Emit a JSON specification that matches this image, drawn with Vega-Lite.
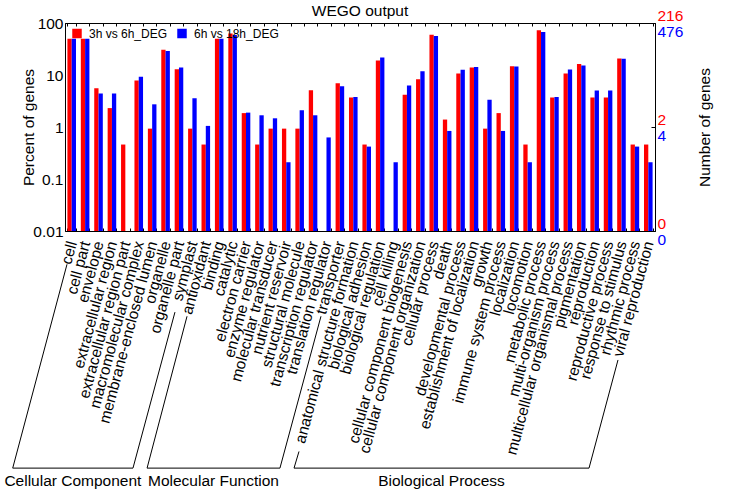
{
  "$schema": "https://vega.github.io/schema/vega-lite/v6.json",
  "width": 590,
  "height": 208,
  "autosize": "none",
  "padding": {"left": 65, "top": 23, "right": 88, "bottom": 261},
  "title": {
    "text": "WEGO output",
    "fontSize": 15.5,
    "fontWeight": "normal",
    "color": "black",
    "anchor": "middle",
    "frame": "group",
    "baseline": "alphabetic",
    "offset": 0,
    "dy": 23
  },
  "config": {
    "font": "Liberation Sans",
    "background": "white",
    "view": {"stroke": "black"},
    "axis": {
      "grid": false,
      "domainColor": "black",
      "tickColor": "black",
      "labelColor": "black",
      "titleColor": "black",
      "labelFontSize": 15.5,
      "titleFontSize": 15.5,
      "titleFontWeight": "normal"
    }
  },
  "datasets": {
    "bars": [
      {"term": "cell", "ontology": "Cellular Component", "series": "3h vs 6h_DEG", "percent": 50.0},
      {"term": "cell", "ontology": "Cellular Component", "series": "6h vs 18h_DEG", "percent": 50.0},
      {"term": "cell part", "ontology": "Cellular Component", "series": "3h vs 6h_DEG", "percent": 50.0},
      {"term": "cell part", "ontology": "Cellular Component", "series": "6h vs 18h_DEG", "percent": 50.0},
      {"term": "envelope", "ontology": "Cellular Component", "series": "3h vs 6h_DEG", "percent": 5.56},
      {"term": "envelope", "ontology": "Cellular Component", "series": "6h vs 18h_DEG", "percent": 4.41},
      {"term": "extracellular region", "ontology": "Cellular Component", "series": "3h vs 6h_DEG", "percent": 2.31},
      {"term": "extracellular region", "ontology": "Cellular Component", "series": "6h vs 18h_DEG", "percent": 4.41},
      {"term": "extracellular region part", "ontology": "Cellular Component", "series": "3h vs 6h_DEG", "percent": 0.46},
      {"term": "macromolecular complex", "ontology": "Cellular Component", "series": "3h vs 6h_DEG", "percent": 7.87},
      {"term": "macromolecular complex", "ontology": "Cellular Component", "series": "6h vs 18h_DEG", "percent": 9.24},
      {"term": "membrane-enclosed lumen", "ontology": "Cellular Component", "series": "3h vs 6h_DEG", "percent": 0.93},
      {"term": "membrane-enclosed lumen", "ontology": "Cellular Component", "series": "6h vs 18h_DEG", "percent": 2.73},
      {"term": "organelle", "ontology": "Cellular Component", "series": "3h vs 6h_DEG", "percent": 30.6},
      {"term": "organelle", "ontology": "Cellular Component", "series": "6h vs 18h_DEG", "percent": 28.8},
      {"term": "organelle part", "ontology": "Cellular Component", "series": "3h vs 6h_DEG", "percent": 12.96},
      {"term": "organelle part", "ontology": "Cellular Component", "series": "6h vs 18h_DEG", "percent": 13.87},
      {"term": "symplast", "ontology": "Cellular Component", "series": "3h vs 6h_DEG", "percent": 0.93},
      {"term": "symplast", "ontology": "Cellular Component", "series": "6h vs 18h_DEG", "percent": 3.57},
      {"term": "antioxidant", "ontology": "Molecular Function", "series": "3h vs 6h_DEG", "percent": 0.46},
      {"term": "antioxidant", "ontology": "Molecular Function", "series": "6h vs 18h_DEG", "percent": 1.05},
      {"term": "binding", "ontology": "Molecular Function", "series": "3h vs 6h_DEG", "percent": 50.0},
      {"term": "binding", "ontology": "Molecular Function", "series": "6h vs 18h_DEG", "percent": 50.0},
      {"term": "catalytic", "ontology": "Molecular Function", "series": "3h vs 6h_DEG", "percent": 62.5},
      {"term": "catalytic", "ontology": "Molecular Function", "series": "6h vs 18h_DEG", "percent": 58.8},
      {"term": "electron carrier", "ontology": "Molecular Function", "series": "3h vs 6h_DEG", "percent": 1.85},
      {"term": "electron carrier", "ontology": "Molecular Function", "series": "6h vs 18h_DEG", "percent": 1.89},
      {"term": "enzyme regulator", "ontology": "Molecular Function", "series": "3h vs 6h_DEG", "percent": 0.46},
      {"term": "enzyme regulator", "ontology": "Molecular Function", "series": "6h vs 18h_DEG", "percent": 1.68},
      {"term": "molecular transducer", "ontology": "Molecular Function", "series": "3h vs 6h_DEG", "percent": 0.93},
      {"term": "molecular transducer", "ontology": "Molecular Function", "series": "6h vs 18h_DEG", "percent": 1.47},
      {"term": "nutrient reservoir", "ontology": "Molecular Function", "series": "3h vs 6h_DEG", "percent": 0.93},
      {"term": "nutrient reservoir", "ontology": "Molecular Function", "series": "6h vs 18h_DEG", "percent": 0.21},
      {"term": "structural molecule", "ontology": "Molecular Function", "series": "3h vs 6h_DEG", "percent": 0.93},
      {"term": "structural molecule", "ontology": "Molecular Function", "series": "6h vs 18h_DEG", "percent": 2.10},
      {"term": "transcription regulator", "ontology": "Molecular Function", "series": "3h vs 6h_DEG", "percent": 5.09},
      {"term": "transcription regulator", "ontology": "Molecular Function", "series": "6h vs 18h_DEG", "percent": 1.68},
      {"term": "translation regulator", "ontology": "Molecular Function", "series": "6h vs 18h_DEG", "percent": 0.63},
      {"term": "transporter", "ontology": "Molecular Function", "series": "3h vs 6h_DEG", "percent": 6.94},
      {"term": "transporter", "ontology": "Molecular Function", "series": "6h vs 18h_DEG", "percent": 6.09},
      {"term": "anatomical structure formation", "ontology": "Biological Process", "series": "3h vs 6h_DEG", "percent": 3.70},
      {"term": "anatomical structure formation", "ontology": "Biological Process", "series": "6h vs 18h_DEG", "percent": 3.78},
      {"term": "biological adhesion", "ontology": "Biological Process", "series": "3h vs 6h_DEG", "percent": 0.46},
      {"term": "biological adhesion", "ontology": "Biological Process", "series": "6h vs 18h_DEG", "percent": 0.42},
      {"term": "biological regulation", "ontology": "Biological Process", "series": "3h vs 6h_DEG", "percent": 18.98},
      {"term": "biological regulation", "ontology": "Biological Process", "series": "6h vs 18h_DEG", "percent": 21.6},
      {"term": "cell killing", "ontology": "Biological Process", "series": "6h vs 18h_DEG", "percent": 0.21},
      {"term": "cellular component biogenesis", "ontology": "Biological Process", "series": "3h vs 6h_DEG", "percent": 4.17},
      {"term": "cellular component biogenesis", "ontology": "Biological Process", "series": "6h vs 18h_DEG", "percent": 6.30},
      {"term": "cellular component organization", "ontology": "Biological Process", "series": "3h vs 6h_DEG", "percent": 8.33},
      {"term": "cellular component organization", "ontology": "Biological Process", "series": "6h vs 18h_DEG", "percent": 11.76},
      {"term": "cellular process", "ontology": "Biological Process", "series": "3h vs 6h_DEG", "percent": 59.7},
      {"term": "cellular process", "ontology": "Biological Process", "series": "6h vs 18h_DEG", "percent": 56.1},
      {"term": "death", "ontology": "Biological Process", "series": "3h vs 6h_DEG", "percent": 1.39},
      {"term": "death", "ontology": "Biological Process", "series": "6h vs 18h_DEG", "percent": 0.84},
      {"term": "developmental process", "ontology": "Biological Process", "series": "3h vs 6h_DEG", "percent": 10.65},
      {"term": "developmental process", "ontology": "Biological Process", "series": "6h vs 18h_DEG", "percent": 12.6},
      {"term": "establishment of localization", "ontology": "Biological Process", "series": "3h vs 6h_DEG", "percent": 13.9},
      {"term": "establishment of localization", "ontology": "Biological Process", "series": "6h vs 18h_DEG", "percent": 14.3},
      {"term": "growth", "ontology": "Biological Process", "series": "3h vs 6h_DEG", "percent": 0.93},
      {"term": "growth", "ontology": "Biological Process", "series": "6h vs 18h_DEG", "percent": 3.36},
      {"term": "immune system process", "ontology": "Biological Process", "series": "3h vs 6h_DEG", "percent": 1.85},
      {"term": "immune system process", "ontology": "Biological Process", "series": "6h vs 18h_DEG", "percent": 0.84},
      {"term": "localization", "ontology": "Biological Process", "series": "3h vs 6h_DEG", "percent": 14.8},
      {"term": "localization", "ontology": "Biological Process", "series": "6h vs 18h_DEG", "percent": 14.5},
      {"term": "locomotion", "ontology": "Biological Process", "series": "3h vs 6h_DEG", "percent": 0.46},
      {"term": "locomotion", "ontology": "Biological Process", "series": "6h vs 18h_DEG", "percent": 0.21},
      {"term": "metabolic process", "ontology": "Biological Process", "series": "3h vs 6h_DEG", "percent": 72.2},
      {"term": "metabolic process", "ontology": "Biological Process", "series": "6h vs 18h_DEG", "percent": 67.0},
      {"term": "multi-organism process", "ontology": "Biological Process", "series": "3h vs 6h_DEG", "percent": 3.70},
      {"term": "multi-organism process", "ontology": "Biological Process", "series": "6h vs 18h_DEG", "percent": 3.78},
      {"term": "multicellular organismal process", "ontology": "Biological Process", "series": "3h vs 6h_DEG", "percent": 10.65},
      {"term": "multicellular organismal process", "ontology": "Biological Process", "series": "6h vs 18h_DEG", "percent": 12.8},
      {"term": "pigmentation", "ontology": "Biological Process", "series": "3h vs 6h_DEG", "percent": 16.2},
      {"term": "pigmentation", "ontology": "Biological Process", "series": "6h vs 18h_DEG", "percent": 15.3},
      {"term": "reproduction", "ontology": "Biological Process", "series": "3h vs 6h_DEG", "percent": 3.70},
      {"term": "reproduction", "ontology": "Biological Process", "series": "6h vs 18h_DEG", "percent": 5.04},
      {"term": "reproductive process", "ontology": "Biological Process", "series": "3h vs 6h_DEG", "percent": 3.70},
      {"term": "reproductive process", "ontology": "Biological Process", "series": "6h vs 18h_DEG", "percent": 5.04},
      {"term": "response to stimulus", "ontology": "Biological Process", "series": "3h vs 6h_DEG", "percent": 20.8},
      {"term": "response to stimulus", "ontology": "Biological Process", "series": "6h vs 18h_DEG", "percent": 20.6},
      {"term": "rhythmic process", "ontology": "Biological Process", "series": "3h vs 6h_DEG", "percent": 0.46},
      {"term": "rhythmic process", "ontology": "Biological Process", "series": "6h vs 18h_DEG", "percent": 0.42},
      {"term": "viral reproduction", "ontology": "Biological Process", "series": "3h vs 6h_DEG", "percent": 0.46},
      {"term": "viral reproduction", "ontology": "Biological Process", "series": "6h vs 18h_DEG", "percent": 0.21}
    ],
    "brackets": [
      {"group": "Cellular Component", "step": 0, "bx": 0.15, "by": -0.16},
      {"group": "Cellular Component", "step": 1, "bx": -3.9, "by": -1.14},
      {"group": "Cellular Component", "step": 2, "bx": 5.07, "by": -1.14},
      {"group": "Cellular Component", "step": 3, "bx": 8.2, "by": -0.39},
      {"group": "Molecular Function", "step": 0, "bx": 9.1, "by": -0.41},
      {"group": "Molecular Function", "step": 1, "bx": 6.12, "by": -1.14},
      {"group": "Molecular Function", "step": 2, "bx": 16.03, "by": -1.14},
      {"group": "Molecular Function", "step": 3, "bx": 19.09, "by": -0.41},
      {"group": "Biological Process", "step": 0, "bx": 17.45, "by": -1.06},
      {"group": "Biological Process", "step": 1, "bx": 17.08, "by": -1.14},
      {"group": "Biological Process", "step": 2, "bx": 39.08, "by": -1.14},
      {"group": "Biological Process", "step": 3, "bx": 41.24, "by": -0.62}
    ],
    "groups": [
      {"group": "Cellular Component", "gx": 0.59, "gy": -1.2},
      {"group": "Molecular Function", "gx": 11.07, "gy": -1.2},
      {"group": "Biological Process", "gx": 28.08, "gy": -1.2}
    ]
  },
  "layer": [
    {
      "data": {"name": "bars"},
      "layer": [
        {
          "mark": {"type": "bar"},
          "encoding": {
            "x": {
              "field": "term",
              "type": "nominal",
              "sort": null,
              "scale": {"paddingInner": 0.36, "paddingOuter": 0.18},
              "axis": {
                "orient": "bottom",
                "title": null,
                "labelAngle": -75,
                "labelLimit": 0,
                "labelPadding": 13,
                "tickBand": "extent",
                "tickSize": -3
              }
            },
            "xOffset": {"field": "series", "type": "nominal"},
            "y": {
              "field": "percent",
              "type": "quantitative",
              "stack": null,
              "scale": {"type": "log", "domain": [0.01, 100], "nice": false},
              "axis": {
                "orient": "left",
                "title": "Percent of genes",
                "values": [0.01, 0.1, 1, 10, 100],
                "format": "~g",
                "ticks": false,
                "labelPadding": 2,
                "titlePadding": -4
              }
            },
            "color": {
              "field": "series",
              "type": "nominal",
              "scale": {"domain": ["3h vs 6h_DEG", "6h vs 18h_DEG"], "range": ["#FF0000", "#0000FF"]},
              "legend": {
                "orient": "none",
                "legendX": 6,
                "legendY": 4.5,
                "direction": "horizontal",
                "title": null,
                "symbolType": "square",
                "symbolSize": 90,
                "symbolStrokeWidth": 0,
                "labelFontSize": 12,
                "labelLimit": 0,
                "labelOffset": 6,
                "columnPadding": 8,
                "padding": 0
              }
            }
          }
        },
        {
          "mark": {"type": "bar", "opacity": 0},
          "encoding": {
            "x": {
              "field": "term",
              "type": "nominal",
              "sort": null,
              "axis": {
                "orient": "top",
                "title": null,
                "labels": false,
                "tickBand": "extent",
                "tickSize": -3
              }
            },
            "y": {
              "field": "percent",
              "type": "quantitative",
              "stack": null,
              "axis": {
                "orient": "right",
                "title": "Number of genes",
                "titleAngle": 270,
                "titlePadding": 30,
                "values": [0.01, 1, 100],
                "labelExpr": "datum.value >= 100 ? '216' : datum.value >= 1 ? '2' : '0'",
                "labelColor": "#FF0000",
                "labelOffset": -8,
                "tickSize": -4,
                "labelPadding": 6
              }
            }
          }
        },
        {
          "mark": {"type": "bar", "opacity": 0},
          "encoding": {
            "x": {"field": "term", "type": "nominal", "sort": null, "axis": null},
            "y": {
              "field": "percent",
              "type": "quantitative",
              "stack": null,
              "axis": {
                "orient": "right",
                "title": null,
                "values": [0.01, 1, 100],
                "labelExpr": "datum.value >= 100 ? '476' : datum.value >= 1 ? '4' : '0'",
                "labelColor": "#0000FF",
                "labelOffset": 8,
                "ticks": false,
                "domain": false,
                "labelPadding": 2
              }
            }
          }
        }
      ],
      "resolve": {"axis": {"x": "independent", "y": "independent"}}
    },
    {
      "layer": [
        {
          "data": {"name": "brackets"},
          "mark": {"type": "line", "color": "black", "strokeWidth": 1},
          "encoding": {
            "x": {"field": "bx", "type": "quantitative", "scale": {"domain": [0, 44], "nice": false, "zero": false}, "axis": null},
            "y": {"field": "by", "type": "quantitative", "scale": {"domain": [0, 1], "nice": false, "zero": false}, "axis": null},
            "detail": {"field": "group"},
            "order": {"field": "step"}
          }
        },
        {
          "data": {"name": "groups"},
          "mark": {"type": "text", "fontSize": 15.5, "align": "center", "baseline": "middle", "color": "black"},
          "encoding": {
            "x": {"field": "gx", "type": "quantitative", "scale": {"domain": [0, 44], "nice": false, "zero": false}, "axis": null},
            "y": {"field": "gy", "type": "quantitative", "scale": {"domain": [0, 1], "nice": false, "zero": false}, "axis": null},
            "text": {"field": "group"}
          }
        }
      ]
    }
  ],
  "resolve": {
    "scale": {"x": "independent", "y": "independent"},
    "axis": {"x": "independent", "y": "independent"}
  }
}
